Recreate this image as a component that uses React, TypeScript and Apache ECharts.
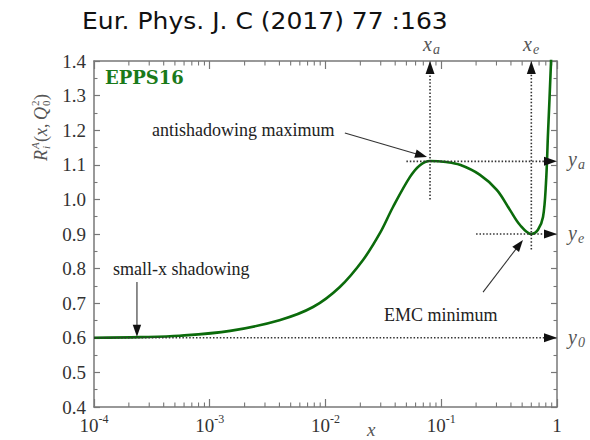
import React, { useEffect, useRef } from 'react';
import * as echarts from 'echarts';

// EPPS16 nuclear modification R_i^A(x, Q0^2)
const xValues = [
  1e-4, 2.5e-4, 5.5e-4, 1.5e-3, 4e-3, 7.8e-3, 0.0133, 0.0211, 0.0296, 0.0383, 0.0537,
  0.0655, 0.08, 0.11, 0.145, 0.216, 0.303, 0.393, 0.479, 0.6, 0.685, 0.757, 0.803,
  0.836, 0.887, 0.905,
];
const ratioValues = [
  0.6, 0.602, 0.606, 0.62, 0.651, 0.689, 0.747, 0.825, 0.903, 0.978, 1.065,
  1.099, 1.111, 1.108, 1.1, 1.071, 1.027, 0.969, 0.926, 0.9, 0.912, 0.949, 1.047,
  1.19, 1.394, 1.5,
];

// dotted guide lines ending in an arrowhead: [x1, y1, x2, y2]
const guideLines = [
  [0.08, 1.0, 0.08, 1.4],
  [0.6, 0.855, 0.6, 1.4],
  [0.05, 1.11, 1, 1.11],
  [0.2, 0.9, 1, 0.9],
  [1e-4, 0.6, 1, 0.6],
];

// solid pointers from the annotation texts: [x1, y1, x2, y2]
const pointerLines = [
  [0.0147, 1.192, 0.0753, 1.1225],
  [2.35e-4, 0.761, 2.35e-4, 0.603],
  [0.2296, 0.732, 0.508, 0.883],
];

const yTicks = { min: 0.4, max: 1.4, interval: 0.1 };
const decades = [1e-4, 1e-3, 1e-2, 1e-1];
const minorMultipliers = [2, 3, 4, 5, 6, 7, 8, 9];
const xMinorTicks = decades.flatMap((d) => minorMultipliers.map((m) => m * d));

const SERIF = '"Liberation Serif", "Times New Roman", serif';
const AXIS_GREY = '#777';

function arrowRender(dotted: boolean) {
  return (params: any, api: any) => {
    const p1 = api.coord([api.value(0), api.value(1)]);
    const p2 = api.coord([api.value(2), api.value(3)]);
    const dx = p2[0] - p1[0];
    const dy = p2[1] - p1[1];
    const len = Math.hypot(dx, dy) || 1;
    const ux = dx / len;
    const uy = dy / len;
    const L = dotted ? 13 : 12;
    const W = dotted ? 4.5 : 4.2;
    const bx = p2[0] - ux * L;
    const by = p2[1] - uy * L;
    return {
      type: 'group',
      children: [
        {
          type: 'line',
          shape: { x1: p1[0], y1: p1[1], x2: bx + ux * 2, y2: by + uy * 2 },
          style: dotted
            ? { stroke: '#333', lineWidth: 1.6, lineDash: [1.5, 1.9] }
            : { stroke: '#333', lineWidth: 1.1 },
        },
        {
          type: 'polygon',
          shape: {
            points: [
              [p2[0], p2[1]],
              [bx - uy * W, by + ux * W],
              [bx + uy * W, by - ux * W],
            ],
          },
          style: { fill: '#111' },
        },
      ],
    };
  };
}

function symbolLabel(x: number, y: number, main: string, sub: string) {
  return {
    type: 'group',
    x,
    y,
    children: [
      {
        type: 'text',
        style: {
          x: 0, y: 0, text: main, fill: '#555',
          font: `italic 20px ${SERIF}`, verticalAlign: 'middle', align: 'left',
        },
      },
      {
        type: 'text',
        style: {
          x: 10, y: 5, text: sub, fill: '#555',
          font: `italic 14px ${SERIF}`, verticalAlign: 'middle', align: 'left',
        },
      },
    ],
  };
}

function plainText(x: number, y: number, text: string, font: string, fill = '#222') {
  return {
    type: 'text',
    style: { x, y, text, font, fill, verticalAlign: 'middle', align: 'left' },
  };
}

function yAxisName() {
  const big = `italic 18px ${SERIF}`;
  const bigUp = `18px ${SERIF}`;
  const small = `italic 11px ${SERIF}`;
  const smallUp = `11px ${SERIF}`;
  const t = (x: number, y: number, text: string, font: string) => ({
    type: 'text',
    style: { x, y, text, font, fill: '#555', verticalAlign: 'middle', align: 'left' },
  });
  return {
    type: 'group',
    x: 41,
    y: 126,
    rotation: Math.PI / 2,
    children: [
      t(-35, 0, 'R', big),
      t(-23, -6, 'A', small),
      t(-23, 5, 'i', small),
      t(-16, 0, '(', bigUp),
      t(-10, 0, 'x', big),
      t(-2, 0, ',', bigUp),
      t(6, 0, 'Q', big),
      t(20, -6, '2', smallUp),
      t(20, 5, '0', smallUp),
      t(26, 0, ')', bigUp),
    ],
  };
}

function valueAxis(position: 'left' | 'right') {
  return {
    type: 'value',
    position,
    min: yTicks.min,
    max: yTicks.max,
    interval: yTicks.interval,
    axisLine: { show: true, onZero: false, lineStyle: { color: AXIS_GREY, width: 1.5 } },
    axisTick: { show: true, inside: true, length: 6, lineStyle: { color: AXIS_GREY, width: 1.2 } },
    minorTick: { show: true, splitNumber: 2, length: 3.5, lineStyle: { color: AXIS_GREY, width: 1.1 } },
    splitLine: { show: false },
    axisLabel: {
      show: position === 'left',
      formatter: (v: number) => v.toFixed(1),
      fontFamily: SERIF,
      fontSize: 19,
      color: '#333',
      margin: 8,
    },
  };
}

function logAxis(position: 'bottom' | 'top') {
  return {
    type: 'log',
    logBase: 10,
    position,
    min: 1e-4,
    max: 1,
    splitNumber: 4,
    axisLine: { show: true, onZero: false, lineStyle: { color: AXIS_GREY, width: 1.5 } },
    axisTick: { show: true, inside: true, length: 8, lineStyle: { color: AXIS_GREY, width: 1.2 } },
    splitLine: { show: false },
    axisLabel: {
      show: position === 'bottom',
      margin: 6,
      formatter: (v: number) => {
        const e = Math.round(Math.log10(v));
        return e === 0 ? '{b|1}' : `{b|10}{s|${e}}`;
      },
      rich: {
        b: { fontFamily: SERIF, fontSize: 19, color: '#333', lineHeight: 24 },
        s: { fontFamily: SERIF, fontSize: 12, color: '#333', lineHeight: 12, verticalAlign: 'top' },
      },
    },
  };
}

export default function App() {
  const ref = useRef<HTMLDivElement>(null);

  useEffect(() => {
    if (!ref.current) return;
    const chart = echarts.init(ref.current, null, { renderer: 'svg' });

    chart.setOption({
      animation: false,
      backgroundColor: '#fff',
      grid: { left: 94, right: 33, top: 61, bottom: 33, containLabel: false },
      xAxis: [logAxis('bottom'), logAxis('top')],
      yAxis: [valueAxis('left'), valueAxis('right')],
      series: [
        {
          type: 'line',
          data: xValues.map((x, i) => [x, ratioValues[i]]),
          showSymbol: false,
          smooth: 0.35,
          clip: true,
          lineStyle: { color: '#0b6b0b', width: 2.6 },
          z: 2,
        },
        {
          type: 'custom',
          data: xMinorTicks.map((v) => [v, 1]),
          encode: { x: 0, y: 1 },
          clip: false,
          silent: true,
          z: 1,
          renderItem: (params: any, api: any) => {
            const cs = params.coordSys;
            const px = api.coord([api.value(0), 1])[0];
            const bottom = cs.y + cs.height;
            const st = { stroke: AXIS_GREY, lineWidth: 1.1 };
            return {
              type: 'group',
              children: [
                { type: 'line', shape: { x1: px, y1: bottom, x2: px, y2: bottom - 4.5 }, style: st },
                { type: 'line', shape: { x1: px, y1: cs.y, x2: px, y2: cs.y + 4.5 }, style: st },
              ],
            };
          },
        },
        {
          type: 'custom',
          data: guideLines,
          encode: { x: [0, 2], y: [1, 3] },
          clip: false,
          silent: true,
          z: 3,
          renderItem: arrowRender(true),
        },
        {
          type: 'custom',
          data: pointerLines,
          encode: { x: [0, 2], y: [1, 3] },
          clip: false,
          silent: true,
          z: 3,
          renderItem: arrowRender(false),
        },
      ],
      graphic: [
        {
          type: 'text',
          x: 82,
          y: 21,
          scaleX: 1.087,
          style: {
            x: 0, y: 0, text: 'Eur. Phys. J. C (2017) 77 :163',
            font: '23px "DejaVu Sans", sans-serif', fill: '#111',
            verticalAlign: 'middle', align: 'left',
          },
        },
        plainText(105, 77, 'EPPS16', 'bold 18px "DejaVu Serif", serif', '#1a7a1a'),
        plainText(152, 130, 'antishadowing maximum', `18px ${SERIF}`),
        plainText(113, 269, 'small-x shadowing', `18px ${SERIF}`),
        plainText(384, 315, 'EMC minimum', `18px ${SERIF}`),
        symbolLabel(423, 44, 'x', 'a'),
        symbolLabel(523, 44, 'x', 'e'),
        symbolLabel(568, 159, 'y', 'a'),
        symbolLabel(568, 233, 'y', 'e'),
        symbolLabel(568, 337, 'y', '0'),
        {
          type: 'text',
          style: {
            x: 367, y: 439, text: 'x', font: `italic 19px ${SERIF}`, fill: '#555',
            verticalAlign: 'bottom', align: 'left',
          },
        },
        yAxisName(),
      ],
    });

    return () => chart.dispose();
  }, []);

  return (
    <div
      ref={ref}
      style={{ position: 'fixed', left: 0, top: 0, width: 590, height: 440, background: '#fff' }}
    />
  );
}
